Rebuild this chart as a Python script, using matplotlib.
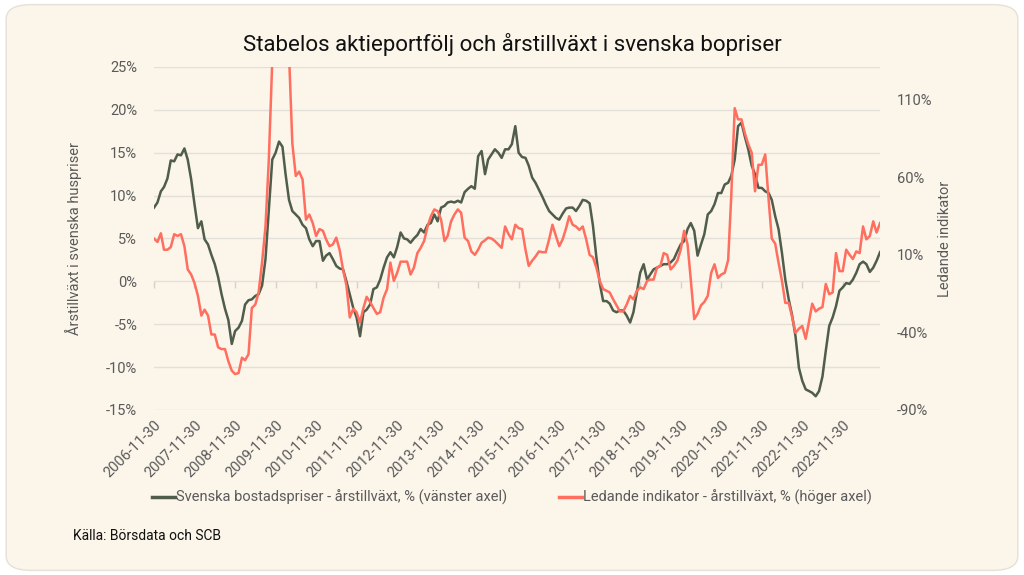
import matplotlib
matplotlib.use("Agg")
import matplotlib.pyplot as plt
import matplotlib.dates as mdates
from matplotlib.patches import FancyBboxPatch
import pandas as pd

# Colours
BG = "#FBF5EA"
GREEN = "#4F5D4A"
RED = "#FF6E5E"
GRID = "#E3E0DA"
TXT = "#5A5A5A"

plt.rcParams["font.family"] = ["Roboto", "DejaVu Sans"]

# Monthly data, 2006-11-30 .. 2024-10-31
start = "2006-11-30"

# Svenska bostadspriser - årstillväxt, % (left axis)
house = [
    8.6, 9.2, 10.5, 11.0, 12.0, 14.1, 14.0, 14.8, 14.7, 15.5,
    14.2, 11.9, 9.0, 6.2, 7.0, 4.9, 4.3, 3.1, 2.0, 0.5,
    -1.5, -3.2, -4.5, -7.3, -5.8, -5.4, -4.6, -2.7, -2.2, -2.1,
    -1.7, -1.5, -0.5, 2.6, 8.4, 14.2, 15.0, 16.3, 15.7, 12.5,
    9.5, 8.2, 7.8, 7.4, 6.6, 6.2, 4.9, 4.1, 4.7, 4.7,
    2.4, 3.0, 3.3, 2.6, 1.8, 1.5, 1.4, 0.0, -1.5, -3.1,
    -4.2, -6.4, -3.6, -3.3, -2.7, -0.9, -0.7, 0.2, 1.6, 2.8,
    3.4, 2.8, 4.0, 5.7, 5.0, 4.9, 4.5, 5.0, 5.4, 6.1,
    5.7, 6.6, 6.8, 7.8, 7.0, 8.6, 8.8, 9.2, 9.3, 9.2,
    9.4, 9.2, 10.4, 10.8, 11.1, 10.8, 14.6, 15.2, 12.5, 14.2,
    14.8, 15.4, 15.0, 14.4, 15.4, 15.4, 16.0, 18.1, 15.0, 14.5,
    14.4, 13.5, 12.1, 11.5, 10.7, 9.9, 9.0, 8.2, 7.8, 7.4,
    7.2, 7.9, 8.5, 8.6, 8.6, 8.2, 8.8, 9.5, 9.4, 9.1,
    6.5, 2.8, -0.2, -2.3, -2.3, -2.6, -3.4, -3.6, -3.4, -3.4,
    -4.0, -4.8, -3.6, -1.3, 1.0, 2.0, 0.2, 0.8, 1.4, 1.6,
    1.8, 2.0, 2.0, 2.2, 2.6, 3.5, 4.3, 4.7, 6.1, 6.8,
    5.9, 3.0, 4.3, 5.5, 7.8, 8.2, 9.0, 10.3, 10.3, 11.3,
    11.5, 12.3, 14.2, 18.1, 18.5, 16.9, 15.4, 13.5, 12.5, 10.9,
    10.9, 10.5, 10.3, 9.5, 7.6, 6.1, 3.3, 0.2, -2.1, -4.0,
    -6.4, -10.1, -11.6, -12.6, -12.8, -13.0, -13.4, -12.8, -11.1, -8.1,
    -5.2, -4.2, -2.9, -1.1, -0.7, -0.2, -0.3, 0.2, 1.0, 2.0,
    2.3, 2.0, 1.1, 1.6, 2.4, 3.4,
]

# Ledande indikator - årstillväxt, % (right axis)
lead = [
    20.6, 18.4, 24.0, 13.4, 13.4, 15.1, 23.4, 22.3, 23.4, 15.7,
    0.7, -2.6, -8.1, -16.4, -29.1, -25.3, -29.1, -41.3, -41.3, -49.6,
    -50.7, -50.7, -58.5, -64.6, -66.8, -66.2, -56.3, -57.9, -54.0, -24.2,
    -22.0, -14.2, 5.1, 28.4, 71.5, 135.0, 170.0, 200.0, 190.0, 160.0,
    140.0, 82.0, 61.0, 63.8, 58.8, 32.8, 36.1, 30.6, 22.3, 26.7,
    25.6, 20.1, 15.7, 16.8, 21.2, 13.4, 0.7, -9.8, -30.3, -24.7,
    -26.9, -33.6, -24.2, -17.0, -20.3, -24.2, -28.0, -26.9, -17.5, -12.0,
    5.1, -6.7, -1.5, 5.7, 5.7, 5.7, -2.6, 1.8, 11.2, 14.6,
    19.0, 28.4, 35.0, 39.4, 38.3, 32.8, 19.0, 22.3, 31.7, 36.1,
    39.4, 37.2, 21.2, 19.0, 12.3, 10.1, 13.4, 17.9, 19.5, 21.2,
    20.6, 19.0, 16.8, 14.6, 28.4, 23.4, 20.1, 29.5, 27.3, 26.7,
    13.4, 3.0, 6.3, 9.0, 12.3, 11.8, 11.8, 20.1, 29.5, 22.3,
    15.7, 20.1, 27.3, 35.0, 29.5, 28.4, 26.2, 28.4, 20.1, 10.1,
    8.5, 1.8, -6.7, -12.0, -13.1, -14.2, -18.6, -22.5, -26.4, -26.4,
    -22.0, -16.4, -18.6, -13.1, -10.9, -12.0, -6.7, -5.9, -5.9, 1.8,
    3.0, 11.2, 10.1, 0.7, 3.0, 6.3, 13.4, 25.6, 16.8, -5.9,
    -31.4, -28.0, -22.5, -20.3, -16.4, -1.5, 4.0, -4.8, -2.6, -1.5,
    6.8, 48.3, 104.7, 97.5, 97.5, 88.7, 81.5, 76.0, 51.1, 68.2,
    68.2, 74.9, 45.5, 20.6, 17.3, 5.1, -6.7, -20.9, -20.9, -30.3,
    -40.2, -37.5, -35.8, -44.1, -32.5, -21.4, -26.4, -24.7, -23.6, -8.7,
    -15.3, -14.2, 11.2, -0.4, -0.4, 13.4, 10.1, 7.4, 12.3, 11.2,
    28.4, 20.1, 22.3, 31.7, 24.5, 30.6,
]

left_ticks = [-15, -10, -5, 0, 5, 10, 15, 20, 25]
right_ticks = [-90, -40, 10, 60, 110]

dates = pd.date_range(start, periods=len(house), freq="ME")
year_ticks = pd.date_range(start, dates[-1], freq="12ME")

fig = plt.figure(figsize=(10.24, 5.75), dpi=100, facecolor="white")
card = FancyBboxPatch((0.006, 0.008), 0.988, 0.984,
                      boxstyle="round,pad=0,rounding_size=0.025",
                      transform=fig.transFigure, facecolor=BG,
                      edgecolor="#E6E1D8", linewidth=1.0, zorder=-10)
fig.patches.append(card)

ax = fig.add_axes([0.1504, 0.287, 0.7090, 0.5965])
ax.set_facecolor("none")
ax2 = ax.twinx()
ax2.set_facecolor("none")

ax.plot(dates, house, color=GREEN, lw=1.8, zorder=3)
ax2.plot(dates, lead, color=RED, lw=1.8, zorder=3)

ax.set_xlim(dates[0], dates[-1])
ax.set_ylim(-15, 25)
ax2.set_ylim(-90, 131.3)

ax.set_yticks(left_ticks)
ax.set_yticklabels([f"{v}%" for v in left_ticks])
ax2.set_yticks(right_ticks)
ax2.set_yticklabels([f"{v}%" for v in right_ticks])
ax.yaxis.grid(True, color=GRID, lw=1.0)
ax.set_axisbelow(True)

for a in (ax, ax2):
    for s in a.spines.values():
        s.set_visible(False)
    a.tick_params(axis="y", length=0, labelsize=10.5, labelcolor=TXT, pad=12)

ax.set_xticks(year_ticks)
ax.xaxis.set_major_formatter(mdates.DateFormatter("%Y-%m-%d"))
ax.tick_params(axis="x", length=0, labelsize=10.5, labelcolor=TXT, pad=6)
for lab in ax.get_xticklabels():
    lab.set_rotation(45)
    lab.set_ha("right")
    lab.set_rotation_mode("anchor")

# small tick marks on the 0% line
zero = ax.secondary_xaxis(15 / 40)
zero.set_xticks(year_ticks)
zero.tick_params(axis="x", direction="out", length=5, color="#D6D2CB", width=1.0,
                 labelbottom=False, labeltop=False)
zero.spines["bottom"].set_visible(False)
zero.spines["top"].set_visible(False)
zero.xaxis.set_ticks_position("bottom")
zero.set_xticklabels([])

ax.set_ylabel("Årstillväxt i svenska huspriser", color=TXT, fontsize=10.5, labelpad=17)
ax2.set_ylabel("Ledande indikator", color=TXT, fontsize=10.5, labelpad=4)

fig.text(0.5, 0.922, "Stabelos aktieportfölj och årstillväxt i svenska bopriser",
         ha="center", va="center", fontsize=16, color="#111111")

h1, = ax.plot([], [], color=GREEN, lw=2.5)
h2, = ax.plot([], [], color=RED, lw=2.5)
fig.legend([h1, h2],
           ["Svenska bostadspriser - årstillväxt, % (vänster axel)",
            "Ledande indikator - årstillväxt, % (höger axel)"],
           loc="center", bbox_to_anchor=(0.5, 0.135), ncol=2, frameon=False,
           fontsize=10.5, labelcolor=TXT, handlelength=1.6, handletextpad=0.1,
           columnspacing=3.5)

fig.text(0.071, 0.068, "Källa: Börsdata och SCB", ha="left", va="center",
         fontsize=10, color="#111111")

fig.savefig("out.png", dpi=100, facecolor="white")
